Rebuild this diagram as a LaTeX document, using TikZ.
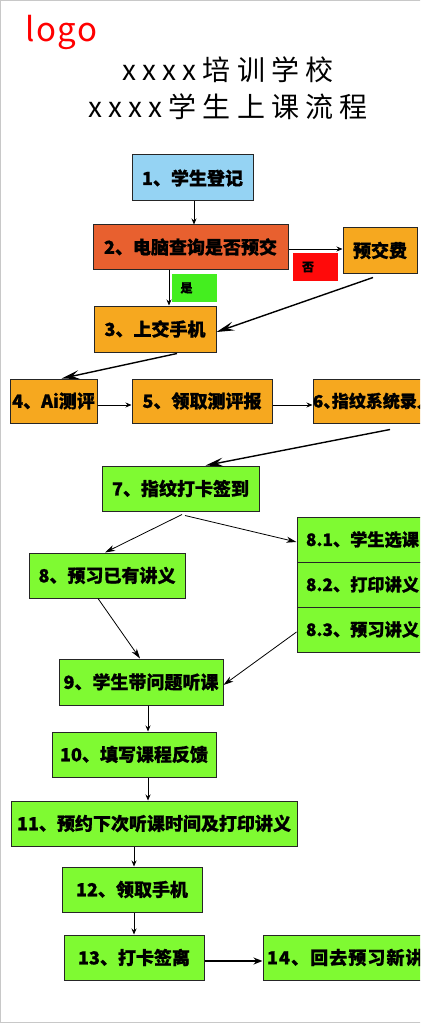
\documentclass[tikz,border=0pt]{standalone}
\usepackage{fontspec}
\setmainfont{Noto Sans CJK SC}
\usetikzlibrary{arrows.meta}
\definecolor{cblue}{HTML}{95D3F3}
\definecolor{cred}{HTML}{E8602F}
\definecolor{corange}{HTML}{F6A81F}
\definecolor{cgreen}{HTML}{7FFA32}
\definecolor{cyes}{HTML}{44EE1F}
\definecolor{cno}{HTML}{FF0A0A}
\definecolor{cframe}{HTML}{C8C8C8}
\begin{document}
\begin{tikzpicture}[x=1pt,y=-1pt,
  box/.style={draw=black!85, line width=1pt, minimum height=45pt, inner sep=0pt,
    font=\fontsize{18}{18}\selectfont\bfseries\addfontfeature{FakeBold=1}, text=black},
  lbox/.style={box, align=left},
  sbox/.style={lbox, text width=130pt, inner xsep=9pt,
    font=\fontsize{17.2}{18}\selectfont\bfseries\addfontfeature{FakeBold=1}},
  flag/.style={minimum height=28pt, inner ysep=0pt, align=left,
    font=\fontsize{12}{12}\selectfont\bfseries\addfontfeature{FakeBold=1}, text=black},
  sarr/.style={-{Stealth[length=6pt,width=5pt]}, line width=0.8pt},
  marr/.style={-{Stealth[length=10pt,width=6pt,inset=3pt]}, line width=0.8pt},
  barr/.style={-{Stealth[length=18pt,width=9pt,inset=7pt]}, line width=1.4pt},
  warr/.style={-{Stealth[length=9pt,width=7pt]}, line width=1.6pt},
  title/.style={font=\fontsize{28}{28}\selectfont\addfontfeature{LetterSpace=22}, text=black}
]
\clip (0,0) rectangle (420,1024);
\fill[white] (0,0) rectangle (420,1024);
\draw[cframe, line width=1pt] (0.5,0.5) rectangle (440,1022.5);

% header
\node[anchor=base west, inner sep=0pt, text=red,
  font=\fontsize{33}{33}\selectfont\addfontfeature{LetterSpace=5}] (logo) at (25,42) {logo};
\node[title] (t1) at (228,70) {xxxx培训学校};
\node[title] (t2) at (228,107) {xxxx学生上课流程};

% boxes
\node[box, fill=cblue, minimum width=121pt, minimum height=46pt] (n1) at (192.5,178) {1、学生登记};
\node[box, fill=cred, minimum width=195pt, minimum height=44pt] (n2) at (190.5,247) {2、电脑查询是否预交};
\node[box, fill=corange, minimum width=74pt] (fee) at (380,250.5) {预交费};
\node[flag, fill=cno, text width=27pt, inner xsep=9pt] (no) at (315.5,267) {否};
\node[flag, fill=cyes, text width=27pt, inner xsep=9pt] (yes) at (194,288) {是};
\node[box, fill=corange, minimum width=122pt, minimum height=46pt] (n3) at (155,329) {3、上交手机};
\node[box, fill=corange, minimum width=87pt, minimum height=44pt] (n4) at (53.5,401) {4、Ai测评};
\node[box, fill=corange, minimum width=140pt, minimum height=44pt] (n5) at (202,401) {5、领取测评报};
\node[lbox, fill=corange, text width=140pt, inner xsep=0pt, minimum height=44pt,
  font=\fontsize{17}{18}\selectfont\bfseries\addfontfeature{FakeBold=1,RawFeature=+palt}] (n6) at (383,401) {6、指纹系统录入};
\node[box, fill=cgreen, minimum width=157pt] (n7) at (180.5,488.5) {7、指纹打卡签到};
\node[box, fill=cgreen, minimum width=156pt] (n8) at (107,575.5) {8、预习已有讲义};
\node[sbox, fill=cgreen] (n81) at (371,539.5) {8.1、学生选课};
\node[sbox, fill=cgreen] (n82) at (371,584.5) {8.2、打印讲义};
\node[sbox, fill=cgreen] (n83) at (371,629.5) {8.3、预习讲义};
\node[box, fill=cgreen, minimum width=164pt, minimum height=46pt] (n9) at (141,682) {9、学生带问题听课};
\node[box, fill=cgreen, minimum width=164pt] (n10) at (134,754.5) {10、填写课程反馈};
\node[box, fill=cgreen, minimum width=286pt] (n11) at (154,823.5) {11、预约下次听课时间及打印讲义};
\node[box, fill=cgreen, minimum width=140pt] (n12) at (132,889.5) {12、领取手机};
\node[box, fill=cgreen, minimum width=140pt] (n13) at (134,957.5) {13、打卡签离};
\node[lbox, fill=cgreen, text width=180pt, inner xsep=4pt,
  font=\fontsize{18}{18}\selectfont\bfseries\addfontfeature{FakeBold=1,LetterSpace=6}] (n14) at (357,957.5) {14、回去预习新讲义};

% connectors
\draw[sarr] ([xshift=1.5pt]n1.south) -- ([xshift=3.5pt]n2.north);
\draw[sarr] ([yshift=-2pt]n2.east) -- ([yshift=1.5pt]fee.west);
\draw[sarr] ([xshift=-21.5pt]n2.south) -- ([xshift=14pt]n3.north);
\draw[barr] ([xshift=-7pt,yshift=-4pt]fee.south) -- ([yshift=-3pt]n3.east);
\draw[barr] ([xshift=22pt,yshift=-1pt]n3.south) -- ([xshift=8pt]n4.north);
\draw[sarr] ([yshift=-4pt]n4.east) -- ([yshift=-4pt]n5.west);
\draw[sarr] ([yshift=-4pt]n5.east) -- ([yshift=-4pt]n6.west);
\draw[barr] ([xshift=7pt,yshift=-6pt]n6.south) -- ([xshift=25pt]n7.north);
\draw[marr] ([xshift=1.5pt,yshift=-3pt]n7.south) -- ([xshift=-2pt]n8.north);
\draw[marr] ([xshift=4.5pt,yshift=-4pt]n7.south) -- ([yshift=-2.5pt]n81.west);
\draw[marr] ([xshift=-9pt]n8.south) -- ([xshift=-1pt]n9.north);
\draw[marr] ([yshift=-2.5pt]n83.west) -- ([yshift=-3pt]n9.east);
\draw[sarr] ([xshift=7pt]n9.south) -- ([xshift=14pt]n10.north);
\draw[sarr] ([xshift=14pt]n10.south) -- ([xshift=-6pt]n11.north);
\draw[sarr] ([xshift=-20pt]n11.south) -- ([xshift=2pt]n12.north);
\draw[sarr] ([xshift=2pt]n12.south) -- (n13.north);
\draw[warr] ([yshift=-3.5pt]n13.east) -- ([yshift=-3.5pt]n14.west);
\end{tikzpicture}
\end{document}
